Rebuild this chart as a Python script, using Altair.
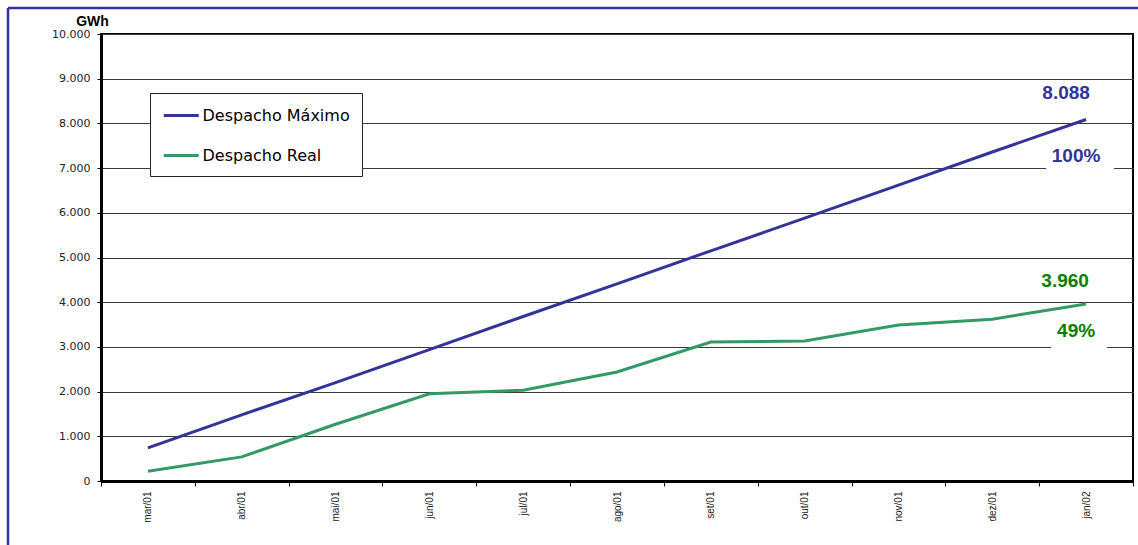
import altair as alt
import pandas as pd

meses = ["mar/01", "abr/01", "mai/01", "jun/01", "jul/01", "ago/01",
         "set/01", "out/01", "nov/01", "dez/01", "jan/02"]
despacho_maximo = [740, 1480, 2200, 2940, 3680, 4410, 5150, 5880, 6620, 7360, 8088]
despacho_real = [220, 540, 1270, 1950, 2030, 2440, 3110, 3130, 3490, 3620, 3960]
series = ["Despacho Máximo", "Despacho Real"]
cores_linha = ["#333399", "#339966"]
cores_texto = ["#333399", "#008000"]
rotulos_valor = ["8.088", "3.960"]
rotulos_pct = ["100%", "49%"]
y_ticks = list(range(0, 10001, 1000))

df = pd.DataFrame({
    "mes": meses * 2,
    "valor": despacho_maximo + despacho_real,
    "serie": [series[0]] * len(meses) + [series[1]] * len(meses),
})
ult = pd.DataFrame({
    "mes": [meses[-1]] * 2,
    "valor": [despacho_maximo[-1], despacho_real[-1]],
    "serie": series,
    "txt": rotulos_valor,
    "pct": rotulos_pct,
    "cor": cores_texto,
})

xscale = alt.Scale(type="band", paddingInner=0, paddingOuter=0)
yscale = alt.Scale(domain=[0, 10000], nice=False)

x_axis = alt.Axis(title=None, labelAngle=-90, tickBand="extent", grid=False,
                  domainColor="black", domainWidth=3, tickColor="black",
                  tickSize=5, tickWidth=1, labelPadding=5,
                  labelFont="Liberation Sans", labelFontSize=10,
                  labelColor="#222222")
y_axis = alt.Axis(values=y_ticks,
                  labelExpr="replace(format(datum.value, ','), ',', '.')",
                  title="GWh", titleAngle=0, titleX=-9, titleY=-13,
                  titleAlign="center", titleBaseline="middle",
                  titleFont="Liberation Sans", titleFontSize=14,
                  titleFontWeight="bold", titleColor="black",
                  grid=True, gridColor="#3a3a3a", gridWidth=1,
                  domainColor="black", domainWidth=3,
                  tickColor="black", tickSize=4, labelPadding=7,
                  labelFont="DejaVu Sans", labelFontSize=11,
                  labelColor="#222222")

x_enc = alt.X("mes:N", sort=meses, scale=xscale, bandPosition=0.5, axis=x_axis)
y_enc = alt.Y("valor:Q", scale=yscale, axis=y_axis)

color = alt.Color(
    "serie:N",
    scale=alt.Scale(domain=series, range=cores_linha),
    legend=alt.Legend(orient="none", legendX=49, legendY=59, title=None,
                      symbolType="M-1,0L3,0", symbolSize=306,
                      symbolStrokeWidth=3, symbolFillColor="transparent",
                      labelFont="DejaVu Sans",
                      labelFontSize=16, labelColor="black",
                      strokeColor="#222222", fillColor="white",
                      padding=12, rowPadding=21, labelOffset=19.5,
                      direction="vertical"),
)

lines = alt.Chart(df).mark_line(strokeWidth=3).encode(
    x=x_enc, y=y_enc, color=color)

frame_data = pd.DataFrame({"k": [0]})
frame_top = alt.Chart(frame_data).mark_rule(color="#333399", strokeWidth=2.5).encode(
    x=alt.value(-93), x2=alt.value(1037), y=alt.value(-26))
frame_left = alt.Chart(frame_data).mark_rule(color="#333399", strokeWidth=2.5).encode(
    x=alt.value(-93), y=alt.value(-26), y2=alt.value(511))

box_max = alt.Chart(ult.iloc[[0]]).mark_point(
    shape="M-1,-0.44L1,-0.44L1,0.44L-1,0.44Z", filled=True, fill="white",
    opacity=1, strokeWidth=0, size=68 * 68, xOffset=-6, yOffset=38
).encode(x=x_enc, y=y_enc)
box_real = alt.Chart(ult.iloc[[1]]).mark_point(
    shape="M-1,-0.55L1,-0.55L1,0.55L-1,0.55Z", filled=True, fill="white",
    opacity=1, strokeWidth=0, size=56 * 56, xOffset=-7, yOffset=30
).encode(x=x_enc, y=y_enc)

txt_base = dict(font="Liberation Sans", fontSize=19, fontWeight="bold",
                align="center", baseline="middle")
val_max = alt.Chart(ult.iloc[[0]]).mark_text(dx=-20, dy=-26, **txt_base).encode(
    x=x_enc, y=y_enc, text="txt:N", color=alt.Color("cor:N", scale=None))
pct_max = alt.Chart(ult.iloc[[0]]).mark_text(dx=-10, dy=37, **txt_base).encode(
    x=x_enc, y=y_enc, text="pct:N", color=alt.Color("cor:N", scale=None))
val_real = alt.Chart(ult.iloc[[1]]).mark_text(dx=-21, dy=-23, **txt_base).encode(
    x=x_enc, y=y_enc, text="txt:N", color=alt.Color("cor:N", scale=None))
pct_real = alt.Chart(ult.iloc[[1]]).mark_text(dx=-10, dy=27, **txt_base).encode(
    x=x_enc, y=y_enc, text="pct:N", color=alt.Color("cor:N", scale=None))

chart = alt.layer(
    lines, frame_top, frame_left, box_max, box_real,
    val_max, pct_max, val_real, pct_real
).properties(
    width=1032, height=447,
    autosize=alt.AutoSizeParams(type="none"),
    padding={"left": 101, "top": 34, "right": 5, "bottom": 64},
    background="white",
).configure_view(
    stroke="black", strokeWidth=2
)

chart.save("out.html", embed_options={"renderer": "svg", "actions": False})
